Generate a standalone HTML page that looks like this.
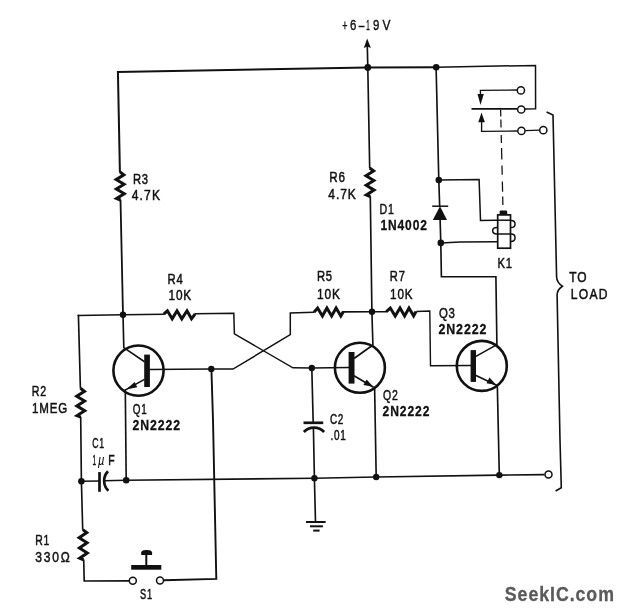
<!DOCTYPE html>
<html><head><meta charset="utf-8">
<style>
html,body{margin:0;padding:0;background:#fff;}
body{width:624px;height:612px;overflow:hidden;font-family:"Liberation Sans",sans-serif;}
svg{display:block;filter:grayscale(1);}
.w{fill:none;stroke:#111;stroke-width:1.65;stroke-linecap:butt;stroke-linejoin:miter;}
.z{fill:none;stroke:#111;stroke-width:3.0;stroke-linejoin:miter;stroke-linecap:butt;}
.d{fill:#111;stroke:none;}
.o{fill:#fff;stroke:#111;stroke-width:1.5;}
.t{font-family:"Liberation Sans",sans-serif;}
.b{font-family:"Liberation Sans",sans-serif;font-weight:bold;}
</style></head><body>
<svg width="624" height="612" viewBox="0 0 624 612">
<rect width="624" height="612" fill="#fff"/>
<g class="w">
<path d="M117 71.9 L367.8 67.5 L436.2 67.2" stroke-width="2.0"/>
<path d="M436.2 67.2 L535.5 65.4 L535.6 108.8 L525 109" stroke-width="1.5"/>
<path d="M117.9 71 L119.9 172.2" stroke-width="2.0"/>
<path d="M120.5 199.5 L123 314.8" stroke-width="1.8"/>
<path d="M367.8 67.5 L367.3 46"/>
<path d="M367.8 67.5 L369.7 168.3"/>
<path d="M370.3 196.3 L371.9 311.7 L372.9 345 L354 358.5"/>
<path d="M436.1 67.1 L438.8 180.1 L439.7 207"/>
<path d="M440.1 219 L440.8 242.9 L441.4 276.7 L495.9 276.7 L496.9 344.6 L475.5 356.6"/>
<path d="M438.8 180 L479.1 179.4 L480.5 220.4 L511 220" stroke-width="1.5"/>
<path d="M440.8 242.9 L460 242.1 L497 241.8" stroke-width="1.5"/>
<path d="M77.6 315.5 L123 314.8 L164 314.2"/>
<path d="M195 313.8 L233.8 313.2 L234.4 333.9 L292.9 367.8 L311.8 368 L349 367.5" stroke-width="1.5"/>
<path d="M78.4 314.7 L80.4 388.5"/>
<path d="M80.7 417 L81.4 481 L82.7 529.8"/>
<path d="M83.7 559.5 L84.2 581 L129 580.9"/>
<path d="M163.8 580.2 L216.3 578.9 L213 420 L211.4 368.9" stroke-width="1.9"/>
<path d="M123 314.8 L123.8 347.6 L144.5 361.8"/>
<path d="M144.5 379.4 L125.5 389.9"/>
<path d="M125.3 389 L126.2 480.3"/>
<path d="M149 369.6 L211.3 368.9 L233 369.1 L290.3 334.6 L290.3 313 L314 312.3" stroke-width="1.5"/>
<path d="M343 311.9 L372 311.7 L387 311.7"/>
<path d="M416.2 311.5 L429.8 311 L430.5 365.8 L471 365.5" stroke-width="1.4"/>
<path d="M311.8 368 L313.2 422.8"/>
<path d="M313.4 427.6 L314.4 478.3 L315.5 522"/>
<path d="M354 375.8 L373.5 387.2"/>
<path d="M374.6 386.5 L376.2 477"/>
<path d="M475.5 375.3 L496.5 385.2"/>
<path d="M497.3 384.5 L499.3 475.1"/>
<path d="M81.4 481.2 L99.5 481"/>
<path d="M104.2 480.8 L126.2 480.3 L314.4 478.3 L376.2 477 L499.3 475.1 L544.5 474.6"/>
</g>
<g class="z">
<path d="M119.90 171.90 L123.86 174.90 L116.16 179.60 L124.06 184.30 L116.37 189.00 L124.27 193.70 L116.57 198.40 L120.50 200.00"/>
<path d="M369.70 168.00 L373.66 171.00 L365.96 175.78 L373.86 180.56 L366.17 185.34 L374.07 190.12 L366.37 194.90 L370.30 196.50"/>
<path d="M80.50 388.30 L84.44 391.30 L76.71 396.16 L84.58 401.02 L76.84 405.88 L84.71 410.74 L76.98 415.60 L80.90 417.20"/>
<path d="M82.80 529.60 L86.78 532.60 L79.12 537.72 L87.05 542.84 L79.39 547.96 L87.32 553.08 L79.66 558.20 L83.60 559.80"/>
<path d="M163.80 314.20 L167.40 310.80 L172.20 318.80 L177.00 310.80 L181.80 318.80 L187.00 310.80 L191.50 318.80 L195.20 313.80"/>
<path d="M314.00 312.20 L317.60 308.00 L322.40 316.00 L326.90 308.00 L331.60 316.00 L336.10 308.00 L340.80 316.00 L343.40 311.40"/>
<path d="M386.40 311.70 L390.30 308.00 L395.20 316.00 L400.00 308.00 L404.60 316.00 L409.00 308.00 L413.60 316.00 L416.00 311.50"/>
</g>
<g fill="none" stroke="#111" stroke-width="2.6">
<circle cx="138.5" cy="370.6" r="25.1"/>
<circle cx="359.9" cy="367.8" r="25"/>
<circle cx="481.8" cy="365.9" r="25"/>
</g>
<g class="d">
<rect x="144.2" y="354.6" width="5.7" height="32.4"/>
<rect x="348.6" y="352" width="5.9" height="31.6"/>
<rect x="470.6" y="350.1" width="5.4" height="31.8"/>
<path d="M126.2 389.6 L134.6 381.9 L137.3 387.2 Z"/>
<path d="M373.2 386.8 L363.4 385 L366.6 379.6 Z"/>
<path d="M496.3 385 L486.5 383.2 L489.5 377.6 Z"/>
<path d="M367.2 38.5 L363.8 48 L367.3 46.4 L370.9 48 Z"/>
<path d="M440 206.3 L432.8 219.9 L447 219.9 Z"/>
<path d="M480.5 105 L477.5 94 L483.8 94 Z"/>
<path d="M481.5 112.5 L478.3 122.3 L484.9 122.3 Z"/>
</g>
<g class="w">
<path d="M432.2 206.2 L448.2 206.2" stroke-width="1.5"/>
<path d="M517 90 L480.4 90.3 L480.5 95" stroke-width="1.35"/>
<path d="M471.5 108.9 L517.2 108.9" stroke-width="1.7"/>
<path d="M517.4 131 L481.6 131.3 L481.6 121" stroke-width="1.35"/>
<path d="M525.4 130.6 L539.3 130.2" stroke-width="1.35"/>
<path d="M546.6 112 L553 115 L556.6 277 Q556.8 282.5 562.4 286.2 Q557.2 289.5 557.1 295 L560 440 L561.3 487.7 L555.6 491" stroke-width="1.6"/>
</g>
<g class="w" style="stroke-width:1.25">
<path d="M500.62 109.60 L500.79 116.60"/>
<path d="M500.86 119.50 L501.05 127.50"/>
<path d="M501.22 134.90 L501.42 142.90"/>
<path d="M501.54 148.00 L501.81 159.50"/>
<path d="M501.96 165.50 L502.18 174.80"/>
<path d="M502.34 181.40 L502.59 191.80"/>
<path d="M502.70 196.40 L502.90 204.90"/>
</g>
<rect x="497.7" y="214.9" width="12.8" height="33.3" fill="#fff" stroke="#111" stroke-width="1.7"/>
<rect x="499.6" y="210.6" width="7.6" height="4.2" rx="1.2" class="d"/>
<g class="w" style="stroke-width:1.5">
<path d="M497 220.2 L511 220.2"/>
<path d="M497 234 L511 234"/>
<path d="M511 220.4 C516.4 220.4 516.4 227.6 511 227.6"/>
<path d="M511 234 C516.4 234 516.4 241.4 511 241.4"/>
<path d="M497 227.6 C491.2 227.6 491.2 234 497 234"/>
</g>
<g class="w" style="stroke-width:2.7">
<path d="M99.5 472.1 L99.5 491.8"/>
<path d="M108 471.2 C102.8 476.5 102.8 485.5 108.4 490.8"/>
<path d="M303.5 422.8 L323.2 422.8"/>
<path d="M303.9 432 C309 426.2 319 426.2 324.1 432"/>
</g>
<g class="w" style="stroke-width:2.0">
<path d="M306 522 L325.6 522"/>
<path d="M310 526.3 L322.9 526.3"/>
<path d="M313.2 530.6 L319.6 530.6"/>
</g>
<rect x="131.2" y="565" width="30.1" height="4.7" class="d"/>
<path d="M146.3 566 L146.3 553" class="w" style="stroke-width:2"/>
<path d="M141.2 555.1 L141.2 552.5 C141.2 549.2 152.1 549.2 152.1 552.5 L152.1 555.1 Z" class="d"/>
<g class="d">
<circle cx="367.8" cy="67.5" r="3.4"/>
<circle cx="436.2" cy="67.2" r="3.3"/>
<circle cx="438.8" cy="180.1" r="3.3"/>
<circle cx="440.8" cy="242.9" r="3.3"/>
<circle cx="123.0" cy="314.8" r="3.2"/>
<circle cx="372.0" cy="311.7" r="3.2"/>
<circle cx="211.3" cy="368.9" r="3.2"/>
<circle cx="311.8" cy="368.0" r="3.2"/>
<circle cx="81.4" cy="481.2" r="3.3"/>
<circle cx="126.2" cy="480.3" r="3.3"/>
<circle cx="314.4" cy="478.3" r="3.2"/>
<circle cx="376.2" cy="477.0" r="3.2"/>
<circle cx="499.3" cy="475.1" r="3.2"/>
</g>
<g class="o">
<circle cx="520.9" cy="90.4" r="3.6"/>
<circle cx="521.2" cy="109.5" r="3.6"/>
<circle cx="521.4" cy="130.9" r="3.6"/>
<circle cx="543.3" cy="130.2" r="3.6"/>
<circle cx="548.5" cy="474.6" r="3.5"/>
<circle cx="132.8" cy="580.8" r="3.5"/>
<circle cx="160.0" cy="580.4" r="3.5"/>
</g>
<text class="t" transform="translate(132.90 183.90) scale(0.7782 1)" font-size="14.40" letter-spacing="1.100" fill="#111" stroke="#111" stroke-width="0.50">R3</text>
<text class="t" transform="translate(131.70 199.70) scale(0.8400 1)" font-size="14.40" letter-spacing="1.382" fill="#111" stroke="#111" stroke-width="0.50">4.7K</text>
<text class="t" transform="translate(329.20 182.20) scale(0.8089 1)" font-size="14.40" letter-spacing="1.100" fill="#111" stroke="#111" stroke-width="0.50">R6</text>
<text class="t" transform="translate(328.30 199.10) scale(0.8373 1)" font-size="14.40" letter-spacing="1.100" fill="#111" stroke="#111" stroke-width="0.50">4.7K</text>
<text class="t" transform="translate(379.60 213.90) scale(0.7373 1)" font-size="14.40" letter-spacing="1.100" fill="#111" stroke="#111" stroke-width="0.50">D1</text>
<text class="b" transform="translate(380.40 230.40) scale(0.8318 1)" font-size="14.40" letter-spacing="1.100" fill="#111" stroke="#111" stroke-width="0.30">1N4002</text>
<text class="t" transform="translate(497.50 268.20) scale(0.7821 1)" font-size="14.40" letter-spacing="1.100" fill="#111" stroke="#111" stroke-width="0.50">K1</text>
<text class="t" transform="translate(569.20 282.40) scale(0.8306 1)" font-size="14.40" letter-spacing="1.100" fill="#111" stroke="#111" stroke-width="0.50">TO</text>
<text class="t" transform="translate(570.70 299.40) scale(0.8400 1)" font-size="14.40" letter-spacing="1.587" fill="#111" stroke="#111" stroke-width="0.50">LOAD</text>
<text class="t" transform="translate(167.60 284.10) scale(0.7833 1)" font-size="14.40" letter-spacing="1.100" fill="#111" stroke="#111" stroke-width="0.50">R4</text>
<text class="t" transform="translate(168.40 300.40) scale(0.8228 1)" font-size="14.40" letter-spacing="1.100" fill="#111" stroke="#111" stroke-width="0.50">10K</text>
<text class="t" transform="translate(316.90 281.30) scale(0.7782 1)" font-size="14.40" letter-spacing="1.100" fill="#111" stroke="#111" stroke-width="0.50">R5</text>
<text class="t" transform="translate(316.90 298.50) scale(0.8300 1)" font-size="14.40" letter-spacing="1.100" fill="#111" stroke="#111" stroke-width="0.50">10K</text>
<text class="t" transform="translate(389.80 281.30) scale(0.7731 1)" font-size="14.40" letter-spacing="1.100" fill="#111" stroke="#111" stroke-width="0.50">R7</text>
<text class="t" transform="translate(390.00 298.50) scale(0.8120 1)" font-size="14.40" letter-spacing="1.100" fill="#111" stroke="#111" stroke-width="0.50">10K</text>
<text class="t" transform="translate(438.90 318.00) scale(0.7900 1)" font-size="14.40" letter-spacing="1.100" fill="#111" stroke="#111" stroke-width="0.50">Q3</text>
<text class="b" transform="translate(438.40 334.40) scale(0.8605 1)" font-size="14.40" letter-spacing="1.100" fill="#111" stroke="#111" stroke-width="0.30">2N2222</text>
<text class="t" transform="translate(31.70 396.40) scale(0.7424 1)" font-size="14.40" letter-spacing="1.100" fill="#111" stroke="#111" stroke-width="0.50">R2</text>
<text class="t" transform="translate(32.00 413.20) scale(0.8013 1)" font-size="14.40" letter-spacing="1.100" fill="#111" stroke="#111" stroke-width="0.50">1MEG</text>
<text class="t" transform="translate(132.70 413.60) scale(0.6864 1)" font-size="14.40" letter-spacing="1.100" fill="#111" stroke="#111" stroke-width="0.50">Q1</text>
<text class="b" transform="translate(132.50 429.50) scale(0.8515 1)" font-size="14.40" letter-spacing="1.100" fill="#111" stroke="#111" stroke-width="0.30">2N2222</text>
<text class="t" transform="translate(383.00 400.20) scale(0.7308 1)" font-size="14.40" letter-spacing="1.100" fill="#111" stroke="#111" stroke-width="0.50">Q2</text>
<text class="b" transform="translate(382.50 416.20) scale(0.8390 1)" font-size="14.40" letter-spacing="1.100" fill="#111" stroke="#111" stroke-width="0.30">2N2222</text>
<text class="t" transform="translate(92.30 448.30) scale(0.6041 1)" font-size="14.40" letter-spacing="1.100" fill="#111" stroke="#111" stroke-width="0.50">C1</text>
<text class="t" transform="translate(329.90 423.80) scale(0.6912 1)" font-size="14.40" letter-spacing="1.100" fill="#111" stroke="#111" stroke-width="0.50">C2</text>
<text class="t" transform="translate(330.40 440.10) scale(0.6932 1)" font-size="14.40" letter-spacing="1.100" fill="#111" stroke="#111" stroke-width="0.50">.01</text>
<text class="t" transform="translate(35.30 544.60) scale(0.7219 1)" font-size="14.40" letter-spacing="1.100" fill="#111" stroke="#111" stroke-width="0.50">R1</text>
<text class="t" transform="translate(35.30 561.60) scale(0.8400 1)" font-size="14.40" letter-spacing="2.114" fill="#111" stroke="#111" stroke-width="0.50">330Ω</text>
<text class="t" transform="translate(140.10 599.00) scale(0.6428 1)" font-size="14.40" letter-spacing="1.100" fill="#111" stroke="#111" stroke-width="0.50">S1</text>
<text class="t" transform="translate(342.20 30.30) scale(0.6226 1)" font-size="14.40" fill="#111" stroke="#111" stroke-width="0.40">+</text>
<text class="t" transform="translate(350.00 30.30) scale(0.7937 1)" font-size="14.40" fill="#111" stroke="#111" stroke-width="0.40">6</text>
<text class="t" transform="translate(358.80 30.30) scale(0.6944 1)" font-size="14.40" fill="#111" stroke="#111" stroke-width="0.40">–</text>
<text class="t" transform="translate(366.20 30.30) scale(0.4340 1)" font-size="14.40" fill="#111" stroke="#111" stroke-width="0.40">1</text>
<text class="t" transform="translate(373.00 30.30) scale(0.7937 1)" font-size="14.40" fill="#111" stroke="#111" stroke-width="0.40">9</text>
<text class="t" transform="translate(382.40 30.30) scale(0.8292 1)" font-size="14.40" fill="#111" stroke="#111" stroke-width="0.40">V</text>
<text class="t" transform="translate(92.40 464.90) scale(0.4464 1)" font-size="14.40" letter-spacing="0.000" fill="#111" stroke="#111" stroke-width="0.50">1</text>
<text class="t" font-style="italic" transform="translate(98 464.9) scale(0.8 1)" font-size="14">µ</text>
<text class="t" transform="translate(108.20 464.90) scale(0.7286 1)" font-size="14.40" letter-spacing="0.000" fill="#111" stroke="#111" stroke-width="0.50">F</text>
<text class="b" transform="translate(504.80 600.80) scale(0.8619 1)" font-size="20.60" letter-spacing="1.100" fill="#5a5a5a" stroke="#5a5a5a" stroke-width="0.30">SeekIC.com</text>
</svg>
</body></html>
